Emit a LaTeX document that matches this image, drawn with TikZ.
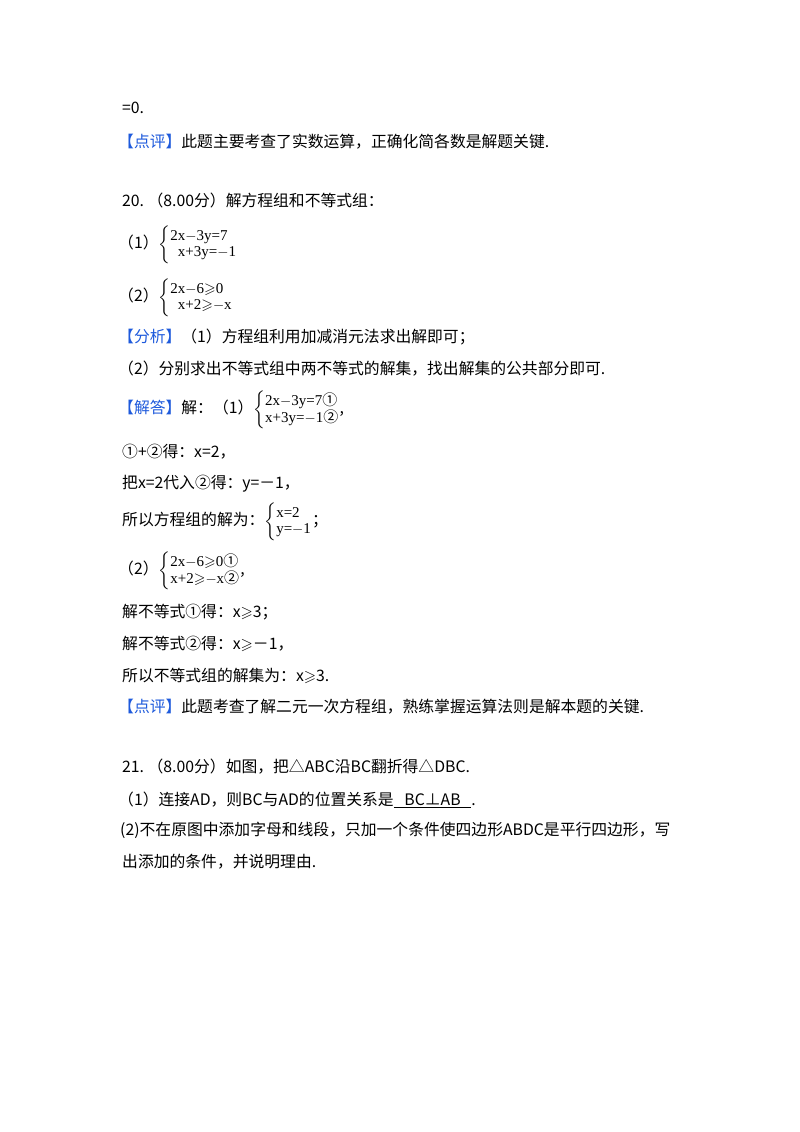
\documentclass[tikz,border=0pt]{standalone}
\usepackage{amssymb}
\usepackage{fontspec}
\setmainfont{Noto Sans CJK SC}
\newfontfamily\eqf{Liberation Serif}
\newfontfamily\cjk{Noto Sans CJK SC}
\definecolor{tagblue}{RGB}{30,90,220}
\newcommand{\tg}[1]{\textcolor{tagblue}{【#1】}}
\newcommand{\sysb}[2]{$\left\{\begin{array}{@{}l@{}}\hbox{\eqf\fontsize{15}{16}\selectfont #1}\\[-1pt]\hbox{\eqf\fontsize{15}{16}\selectfont #2}\end{array}\right.$}
\begin{document}
\begin{tikzpicture}[x=1pt,y=-1pt,every node/.style={anchor=west,inner sep=0pt,font=\fontsize{15.8}{17}\selectfont}]
\useasboundingbox[fill=white] (0,0) rectangle (800,1132);
\node (l1) at (122,108) {=0.};
\node (l2) at (118,142) {\tg{点评}此题主要考查了实数运算，正确化简各数是解题关键.};
\node (l3) at (122,200) {20.\ （8.00分）解方程组和不等式组：};
\node (l4) at (118,245) {（1）\sysb{2x$-$3y=7}{\ \ x+3y=$-$1}};
\node (l5) at (118,298) {（2）\sysb{2x$-$6$\geqslant$0}{\ \ x+2$\geqslant$$-$x}};
\node (l6) at (118,337) {\tg{分析}（1）方程组利用加减消元法求出解即可；};
\node (l7) at (118,369) {（2）分别求出不等式组中两不等式的解集，找出解集的公共部分即可.};
\node (l8) at (118,410) {\tg{解答}解：（1）\sysb{2x$-$3y=7{\cjk ①}}{x+3y=$-$1{\cjk ②}},};
\node (l9) at (122,452) {①+②得：x=2，};
\node (l10) at (122,484) {把x=2代入②得：y=－1，};
\node (l11) at (122,522) {所以方程组的解为：\sysb{x=2}{y=$-$1}；};
\node (l12) at (118,571) {（2）\sysb{2x$-$6$\geqslant$0{\cjk ①}}{x+2$\geqslant$$-$x{\cjk ②}},};
\node (l13) at (122,612) {解不等式①得：x$\geqslant$3；};
\node (l14) at (122,644) {解不等式②得：x$\geqslant$－1，};
\node (l15) at (122,676) {所以不等式组的解集为：x$\geqslant$3.};
\node (l16) at (118,707) {\tg{点评}此题考查了解二元一次方程组，熟练掌握运算法则是解本题的关键.};
\node (l17) at (122,767) {21.\ （8.00分）如图，把△ABC沿BC翻折得△DBC.};
\node (l18) at (118,800) {（1）连接AD，则BC与AD的位置关系是\underline{\ \ \ BC⊥AB\ \ \ }.};
\node (l19) at (120,830) {(2)不在原图中添加字母和线段，只加一个条件使四边形ABDC是平行四边形，写};
\node (l20) at (122,862) {出添加的条件，并说明理由.};
\end{tikzpicture}
\end{document}
